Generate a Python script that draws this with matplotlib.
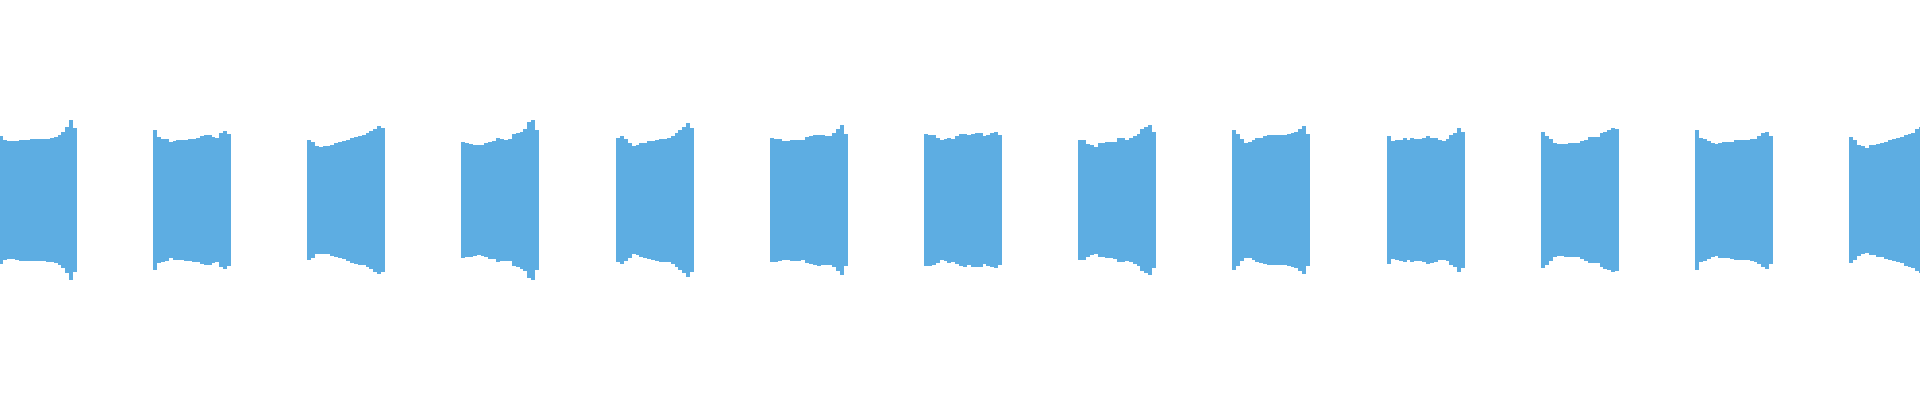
import numpy as np
import matplotlib
matplotlib.use("Agg")
import matplotlib.pyplot as plt

# Waveform: 13 tone bursts. Start time of each burst (sample units) and
# the peak amplitude envelope (20 bins per burst).
burst_starts = [-1, 153, 307, 461, 616, 770, 924, 1078, 1232, 1387, 1541, 1695, 1849]
burst_length = 78

env_1 = [64, 60, 59, 59, 59.5, 60.5, 60.5, 60.5, 61, 61, 61, 61, 61.5, 62, 63, 65, 68, 73, 80, 72]
env_2 = [70, 63, 61.5, 61, 58, 59.5, 60, 60, 60.5, 61, 61.5, 62, 64, 65, 65, 63, 62, 67, 69, 66]
env_3 = [60, 58, 54, 53.5, 54, 54, 55.5, 57, 58, 59, 60.5, 62.5, 63.5, 64.5, 65, 67, 69, 71.5, 74, 72]
env_4 = [58, 57, 56.5, 55.5, 55, 55.5, 57, 58.5, 59, 62, 61, 60.5, 61, 66, 67, 68.5, 71, 78, 80, 70]
env_5 = [62, 64, 61, 57.5, 54, 55, 57, 57.5, 59, 59.5, 60.5, 61.5, 61.5, 62, 64, 67, 70, 73, 77, 72]
env_6 = [62, 61.5, 61, 59.5, 59.5, 60.5, 60.5, 60.5, 60, 63, 64.3, 65, 65.5, 65, 64.5, 64.5, 67, 71, 75, 66]
env_7 = [66, 65.5, 65, 62.5, 60, 60.7, 62.5, 61.5, 64, 66, 66.5, 65, 66.5, 67, 66.7, 64, 65.5, 66.7, 68, 65]
env_8 = [60, 60, 56.5, 55, 53.5, 56.7, 57, 57.7, 58, 58.5, 61.7, 61.7, 60.5, 62, 64, 66, 71, 73, 75, 68]
env_9 = [70, 66, 61, 57.5, 58.3, 60, 62.3, 62.5, 64, 65, 65, 65, 65, 65, 65.7, 66.7, 68, 70.7, 74, 66]
env_10 = [64, 59, 60, 60.5, 61.7, 60, 61.7, 60.7, 60.7, 62.3, 64, 62.5, 61.7, 60, 59.5, 61, 65, 67, 71.7, 68]
env_11 = [68, 64.5, 61, 56.7, 56.3, 56, 56.5, 57.3, 56.7, 57.3, 59, 60.5, 62.7, 63, 63.3, 66.7, 68.5, 70, 71.7, 71]
env_12 = [70, 62, 60.7, 59, 57, 56, 57.5, 58.3, 58.3, 58.5, 60, 60, 60, 60, 60.7, 61.5, 64, 67.3, 68.5, 64]
env_13 = [63, 60, 55.5, 54, 52.5, 55, 55, 56.5, 57.3, 58.5, 59.7, 60.7, 62, 63, 65.5, 66.5, 67.5, 71, 73, 72]

envelopes = [env_1, env_2, env_3, env_4, env_5, env_6, env_7, env_8,
             env_9, env_10, env_11, env_12, env_13]

WAVE_COLOR = "#5dade2"

fig = plt.figure(figsize=(19.2, 4.0), dpi=100)
ax = fig.add_axes([0, 0, 1, 1])

for start, env in zip(burst_starts, envelopes):
    amp = np.asarray(env, dtype=float)
    edges = np.linspace(start, start + burst_length, len(amp) + 1)
    ax.stairs(amp, edges, baseline=-amp, fill=True, color=WAVE_COLOR,
              linewidth=0)

ax.set_xlim(0, 1920)
ax.set_ylim(-200, 200)
ax.axis("off")

fig.savefig("out.png", dpi=100, facecolor="white")
